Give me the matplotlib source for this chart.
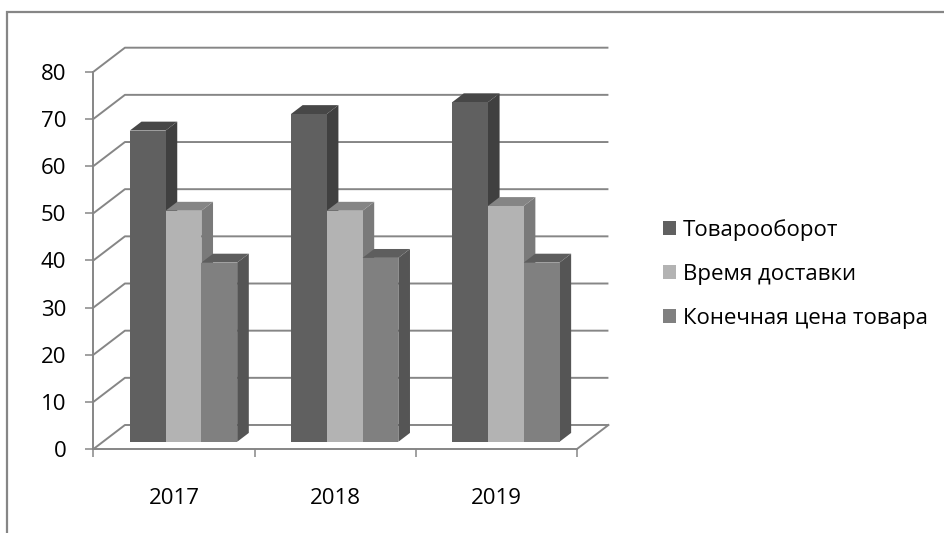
import numpy as np
import matplotlib.pyplot as plt
from matplotlib.patches import Polygon, Patch, Rectangle

plt.rcParams['font.family'] = ['Open Sans', 'DejaVu Sans']

years = ['2017', '2018', '2019']
series = ['Товарооборот', 'Время доставки', 'Конечная цена товара']
turnover = [66, 69.5, 72]
delivery = [49, 49, 50]
price = [38, 39, 38]
values = [turnover, delivery, price]

# front / side / top shades for each series
shades = [('#606060', '#404040', '#474747'),
          ('#b3b3b3', '#7a7a7a', '#858585'),
          ('#808080', '#555555', '#5e5e5e')]
grid_col = '#868686'

# oblique depth of the 3D box in data units
DX, DY = 0.195, 5.09
f0, f1 = 0.30, 0.67       # bars sit between these fractions of the depth
bar_w = 0.222
gap = (1 - 3 * bar_w) / 2

fig = plt.figure(figsize=(9.45, 5.33), dpi=100)
ax = fig.add_axes([93.5 / 945, 84 / 533, 483.5 / 945, 377.3 / 533])
ax.set_xlim(0, 3)
ax.set_ylim(0, 80)

# back wall gridlines
for v in range(0, 81, 10):
    ax.plot([0, DX, 3 + DX], [v, v + DY, v + DY], color=grid_col, lw=1.4,
            clip_on=False, zorder=1, solid_capstyle='butt')
# right edge of floor
ax.plot([3, 3 + DX], [0, DY], color=grid_col, lw=1.4, clip_on=False, zorder=1)

z = 2
for i in range(len(years)):
    for j in range(len(series)):
        v = values[j][i]
        x0 = i + gap + j * bar_w + f0 * DX
        x1 = x0 + bar_w
        y0 = f0 * DY
        y1 = y0 + v
        ddx = (f1 - f0) * DX
        ddy = (f1 - f0) * DY
        front, side, top = shades[j]
        ax.add_patch(Polygon([(x1, y0), (x1 + ddx, y0 + ddy), (x1 + ddx, y1 + ddy), (x1, y1)],
                             closed=True, fc=side, ec='none', zorder=z, clip_on=False))
        ax.add_patch(Polygon([(x0, y1), (x1, y1), (x1 + ddx, y1 + ddy), (x0 + ddx, y1 + ddy)],
                             closed=True, fc=top, ec='none', zorder=z, clip_on=False))
        ax.add_patch(Rectangle((x0, y0), bar_w, v, fc=front, ec='none', zorder=z + 0.5,
                               clip_on=False))
        z += 1

for s in ['top', 'right']:
    ax.spines[s].set_visible(False)
for s in ['left', 'bottom']:
    ax.spines[s].set_color(grid_col)
    ax.spines[s].set_linewidth(1.4)
    ax.spines[s].set_zorder(0.5)

ax.set_yticks(range(0, 81, 10))
ax.tick_params(axis='y', length=5.5, width=1.1, color=grid_col, pad=14, labelsize=16)
ax.set_xticks([0, 1, 2, 3])
ax.set_xticklabels([])
ax.tick_params(axis='x', which='major', length=6, width=1.1, color=grid_col)
ax.set_xticks([0.5, 1.5, 2.5], minor=True)
ax.set_xticklabels(years, minor=True)
ax.tick_params(axis='x', which='minor', length=0, pad=28, labelsize=16)

handles = [Patch(fc=shades[k][0], ec='none') for k in range(3)]
fig.legend(handles, series, loc='center left', bbox_to_anchor=(652 / 945, 1 - 274 / 533),
           frameon=False, fontsize=16, handlelength=0.6, handleheight=0.6,
           handletextpad=0.3, labelspacing=1.05, borderpad=0)

# chart frame
fig.patches.append(Rectangle((7 / 945, -0.05), 1.1, 1 - 12 / 533 + 0.05, transform=fig.transFigure,
                             fill=False, ec=grid_col, lw=1.6))

fig.savefig('out.png', dpi=100)
